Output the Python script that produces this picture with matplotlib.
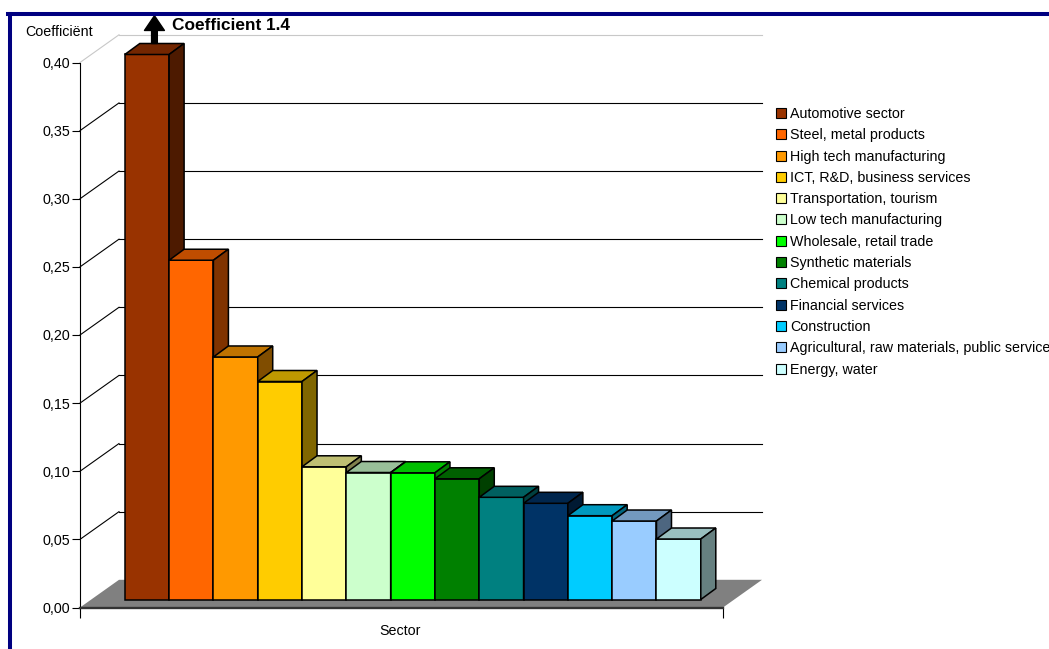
import matplotlib
matplotlib.use('Agg')
import matplotlib.pyplot as plt
from matplotlib.patches import Polygon, Patch
from matplotlib.lines import Line2D
from matplotlib.ticker import FuncFormatter
from matplotlib.colors import to_rgb

plt.rcParams['font.family'] = ['Liberation Sans', 'DejaVu Sans']

# data (automotive is off the scale: 1.4)
sectors = ['Automotive sector', 'Steel, metal products', 'High tech manufacturing',
           'ICT, R&D, business services', 'Transportation, tourism',
           'Low tech manufacturing', 'Wholesale, retail trade', 'Synthetic materials',
           'Chemical products', 'Financial services', 'Construction',
           'Agricultural, raw materials, public services', 'Energy, water']
coefficients = [1.4, 0.249, 0.178, 0.160, 0.0974, 0.0932, 0.0930, 0.0886,
                0.0750, 0.0706, 0.0615, 0.0576, 0.0444]
colors = ['#993300', '#FF6600', '#FF9900', '#FFCC00', '#FFFF99', '#CCFFCC',
          '#00FF00', '#008000', '#008080', '#003366', '#00CCFF', '#99CCFF', '#CCFFFF']
y_ticks = [0.0, 0.05, 0.10, 0.15, 0.20, 0.25, 0.30, 0.35, 0.40]
y_max = 0.40

W, H = 1049, 649
fig = plt.figure(figsize=(W / 100, H / 100), dpi=100)
ax = fig.add_axes([80 / W, 1 - 607.5 / H, 643 / W, 545 / H])

n = len(sectors)
xmin, xmax = -1.256, n - 1 + 1.256
ax.set_xlim(xmin, xmax)
ax.set_ylim(0, y_max)


def px(dx, dy):
    # convert a pixel offset into data units of the axes
    p0 = ax.transData.transform((0, 0))
    p1 = ax.transData.transform((1, 1))
    return dx / (p1[0] - p0[0]), dy / (p1[1] - p0[1])


def shade(c, f):
    r, g, b = to_rgb(c)
    return (r * f, g * f, b * f)


wx, wy = px(39, 27.7)   # back wall offset
bx, by = px(11.3, 8)    # plane where the bars stand
dx, dy = px(15, 11)     # bar depth

# axes look
for s in ['top', 'right']:
    ax.spines[s].set_visible(False)
ax.spines['left'].set_linewidth(0.8)
ax.spines['bottom'].set_color('#333333')
ax.spines['bottom'].set_linewidth(1.7)
ax.set_yticks(y_ticks)
ax.yaxis.set_major_formatter(FuncFormatter(lambda v, p: f'{v:.2f}'.replace('.', ',')))
ax.tick_params(axis='y', direction='out', length=5.8, width=0.8, labelsize=10.3, pad=1.5)
ax.set_xticks([xmin, xmax])
ax.set_xticklabels(['', ''])
ax.tick_params(axis='x', direction='out', length=7.2, width=0.8)
ax.patch.set_visible(False)

# back wall gridlines and side-wall diagonals
for t in y_ticks[1:]:
    col = '#C8C8C8' if t == y_max else 'black'
    ax.plot([xmin, xmin + wx], [t, t + wy], color=col, lw=0.8, clip_on=False, zorder=1)
    ax.plot([xmin + wx, xmax + wx], [t + wy, t + wy], color=col, lw=0.8, clip_on=False, zorder=1)

# floor
ax.add_patch(Polygon([(xmin, 0), (xmax, 0), (xmax + wx, wy), (xmin + wx, wy)],
                     closed=True, fc='#808080', ec='none', clip_on=False, zorder=2))

# 3d bars
for i, (v, c) in enumerate(zip(coefficients, colors)):
    h = min(v, y_max)
    x0, x1 = i - 0.5 + bx, i + 0.5 + bx
    z = 3 + i
    kw = dict(closed=True, ec='black', lw=1.1, clip_on=False, zorder=z, joinstyle='miter')
    ax.add_patch(Polygon([(x0, by), (x1, by), (x1, h + by), (x0, h + by)], fc=c, **kw))
    ax.add_patch(Polygon([(x0, h + by), (x1, h + by), (x1 + dx, h + by + dy),
                          (x0 + dx, h + by + dy)], fc=shade(c, 0.75), **kw))
    ax.add_patch(Polygon([(x1, by), (x1 + dx, by + dy), (x1 + dx, h + by + dy),
                          (x1, h + by)], fc=shade(c, 0.5), **kw))

# arrow for the off-scale bar
ax.annotate('', xy=(bx + dx / 2, 1 - 15.7 / H), xycoords=('data', 'figure fraction'),
            xytext=(bx + dx / 2, y_max + by + dy), textcoords='data',
            arrowprops=dict(arrowstyle='simple,head_width=1.15,head_length=0.85,tail_width=0.33',
                            fc='black', ec='black', mutation_scale=12.5, shrinkA=0, shrinkB=0),
            zorder=20)
fig.text(172 / W, 1 - 26 / H, 'Coefficient 1.4', fontsize=12.4, fontweight='bold',
         ha='left', va='center')

fig.text(25 / W, 1 - 32 / H, 'Coefficiënt', fontsize=10.3, ha='left', va='center')
fig.text(400 / W, 1 - 631 / H, 'Sector', fontsize=10.3, ha='center', va='center')

handles = [Patch(fc=c, ec='black', lw=0.8) for c in colors]
fig.legend(handles, sectors, loc='upper left', bbox_to_anchor=(776 / W, 1 - 107 / H),
           frameon=False, fontsize=10.3, handlelength=0.7, handleheight=0.7,
           handletextpad=0.28, labelspacing=0.51, borderpad=0, borderaxespad=0)

# dark blue frame
fig.add_artist(Line2D([10.3 / W, 10.3 / W], [0, 1 - 14 / H], color='#000080', lw=2.9,
                      transform=fig.transFigure))
fig.add_artist(Line2D([8.3 / W, 1], [1 - 14 / H, 1 - 14 / H], color='#000080', lw=2.9,
                      transform=fig.transFigure))

fig.savefig('out.png', dpi=100)
